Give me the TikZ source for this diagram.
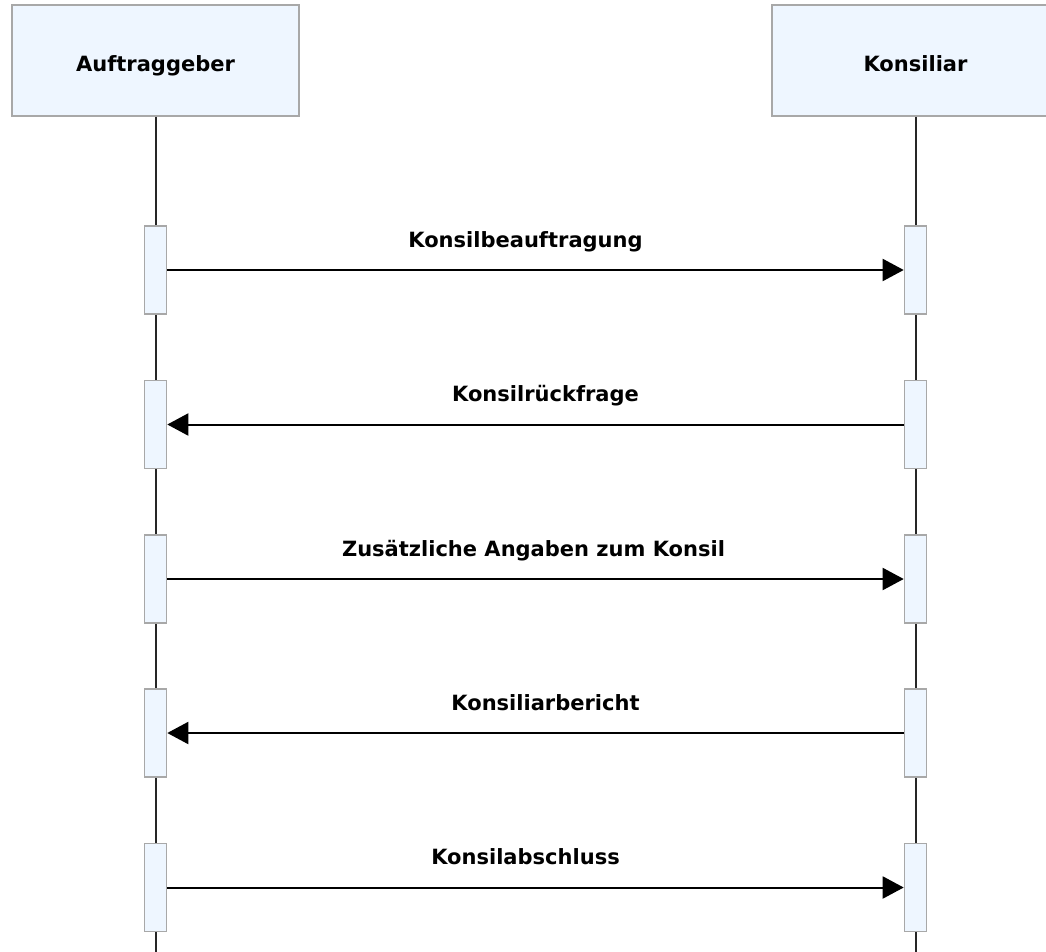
\documentclass[tikz,border=0pt]{standalone}
\usepackage{fontspec}
\setmainfont{DejaVu Sans}
\usetikzlibrary{arrows.meta}
\definecolor{boxfill}{HTML}{EEF6FF}
\definecolor{boxline}{HTML}{A8A8A8}
\tikzset{
  head/.style={draw=boxline, line width=1.6pt, fill=boxfill, minimum width=287pt, minimum height=111pt, inner sep=0pt, text height=22pt, text depth=0pt, font=\bfseries\fontsize{21}{24}\selectfont},
  bar/.style={draw=boxline, line width=1.6pt, fill=boxfill, minimum width=22pt, minimum height=88pt, inner sep=0pt},
  life/.style={draw=black!85, line width=2pt},
  msg/.style={draw=black, line width=2pt, -{Triangle[length=21pt,width=22pt]}},
  lbl/.style={font=\bfseries\fontsize{21}{24}\selectfont, inner sep=0pt, anchor=base, yshift=23pt}
}
\begin{document}
\begin{tikzpicture}[x=1pt,y=-1pt]
\useasboundingbox (0,0) rectangle (1046,952);
\clip (0,0) rectangle (1046,952);
\fill[white] (0,0) rectangle (1046,952);
\node[head] (A) at (155.5,60.5) {Auftraggeber};
\node[head] (K) at (915.5,60.5) {Konsiliar};
\coordinate (Aend) at (155.5,960);
\coordinate (Kend) at (915.5,960);
\draw[life] (A.south) -- (Aend);
\draw[life] (K.south) -- (Kend);
\foreach \i/\y in {1/270,2/424.5,3/579,4/733,5/887.5}{
  \node[bar] (a\i) at (155.5,\y) {};
  \node[bar] (k\i) at (915.5,\y) {};
}
\draw[msg] (a1.east) -- node[lbl, xshift=-10pt] {Konsilbeauftragung} (k1.west);
\draw[msg] (k2.west) -- node[lbl, xshift=10pt] {Konsilrückfrage} (a2.east);
\draw[msg] (a3.east) -- node[lbl, xshift=-2pt] {Zusätzliche Angaben zum Konsil} (k3.west);
\draw[msg] (k4.west) -- node[lbl, xshift=10pt] {Konsiliarbericht} (a4.east);
\draw[msg] (a5.east) -- node[lbl, xshift=-10pt] {Konsilabschluss} (k5.west);
\end{tikzpicture}
\end{document}
